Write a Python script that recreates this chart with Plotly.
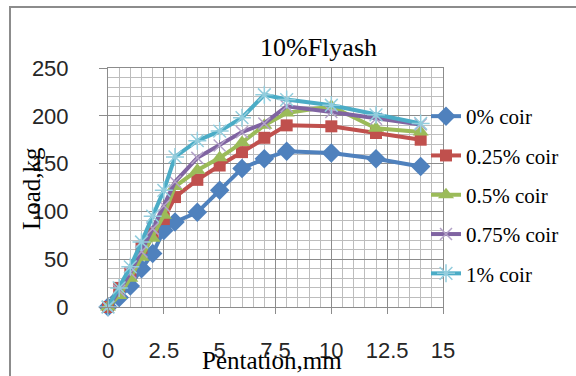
import plotly.graph_objects as go

# Penetration (mm) readings shared by every mix
penetration = [0, 0.5, 1, 1.5, 2, 2.5, 3, 4, 5, 6, 7, 8, 10, 12, 14]

# Load (kg) for each coir content
load_0 = [0, 10, 22, 40, 56, 80, 89, 99, 122, 145, 155, 163, 161, 155, 147]
load_025 = [0, 20, 35, 62, 78, 92, 115, 133, 148, 162, 177, 190, 189, 182, 175]
load_05 = [0, 12, 30, 52, 72, 96, 126, 143, 156, 172, 190, 203, 210, 187, 183]
load_075 = [0, 17, 36, 58, 82, 106, 131, 156, 169, 183, 192, 210, 204, 197, 191]
load_1 = [0, 20, 42, 68, 95, 122, 157, 174, 184, 198, 222, 217, 211, 201, 192]

series_names = ["0% coir", "0.25% coir", "0.5% coir", "0.75% coir", "1% coir"]
series_loads = [load_0, load_025, load_05, load_075, load_1]

x_ticks = [0, 2.5, 5, 7.5, 10, 12.5, 15]
y_ticks = [0, 50, 100, 150, 200, 250]

styles = [
    dict(color="#4F81BD", symbol="diamond", msize=15, mcolor="#4F81BD", mline=0),
    dict(color="#C0504D", symbol="square", msize=12, mcolor="#C0504D", mline=0),
    dict(color="#9BBB59", symbol="triangle-up", msize=14, mcolor="#9BBB59", mline=0),
    dict(color="#8064A2", symbol="x-thin-open", msize=12, mcolor="#B3A2C7", mline=1.5),
    dict(color="#4BACC6", symbol="asterisk-open", msize=15, mcolor="#93CDDD", mline=1.5),
]

W, H = 576, 376
L, R, T, B = 108, 133, 68, 69
pw, ph = W - L - R, H - T - B


def px_x(p):
    return (p - L) / pw


def px_y(p):
    return (H - B - p) / ph


fig = go.Figure()
for name, vals, st in zip(series_names, series_loads, styles):
    fig.add_trace(go.Scatter(
        x=penetration, y=vals, name=name, mode="lines+markers",
        legendgroup=name, cliponaxis=False,
        line=dict(color=st["color"], width=4),
        marker=dict(symbol=st["symbol"], size=st["msize"], color=st["mcolor"],
                    line=dict(width=st["mline"], color=st["mcolor"])),
    ))

serif = "Liberation Serif, Times New Roman, serif"
sans = "Liberation Sans, Arial, sans-serif"

fig.update_layout(
    width=W, height=H,
    margin=dict(l=L, r=R, t=T, b=B),
    paper_bgcolor="white", plot_bgcolor="white",
    showlegend=True,
    legend=dict(
        x=px_x(426), y=px_y(96), xanchor="left", yanchor="top",
        font=dict(family=serif, size=21, color="#000000"),
        tracegroupgap=9, bgcolor="rgba(0,0,0,0)",
        itemwidth=30,
    ),
    annotations=[
        dict(text="10%Flyash", x=px_x(318), y=px_y(47), xref="paper", yref="paper",
             xanchor="center", yanchor="middle",
             showarrow=False, font=dict(family=serif, size=26, color="#000000")),
        dict(text="Pentation,mm", x=px_x(272), y=px_y(360), xref="paper", yref="paper",
             xanchor="center", yanchor="middle",
             showarrow=False, font=dict(family=serif, size=25, color="#000000")),
        dict(text="Load,kg", x=px_x(31), y=px_y(189), xref="paper", yref="paper",
             xanchor="center", yanchor="middle",
             textangle=-90, showarrow=False,
             font=dict(family=serif, size=25, color="#000000")),
    ],
    shapes=[
        dict(type="rect", xref="paper", yref="paper",
             x0=px_x(10), y0=px_y(400), x1=px_x(620), y1=px_y(7),
             line=dict(color="#8C8C8C", width=2), fillcolor="rgba(0,0,0,0)", layer="below"),
    ],
)

fig.update_xaxes(
    range=[0, 15], tickvals=x_ticks, ticktext=[f"{v:g}" for v in x_ticks],
    showgrid=True, gridcolor="#8C8C8C", gridwidth=1,
    minor=dict(dtick=0.5, tick0=0, showgrid=True, gridcolor="#BDBDBD", gridwidth=1),
    showline=True, linecolor="#8C8C8C", linewidth=1, mirror=True,
    ticks="outside", ticklen=6, tickcolor="#8C8C8C",
    ticklabelstandoff=18,
    tickfont=dict(family=sans, size=22, color="#262626"),
    zeroline=False,
)
fig.update_yaxes(
    range=[0, 250], tickvals=y_ticks,
    showgrid=True, gridcolor="#8C8C8C", gridwidth=1,
    minor=dict(dtick=10, tick0=0, showgrid=True, gridcolor="#BDBDBD", gridwidth=1),
    showline=True, linecolor="#8C8C8C", linewidth=1, mirror=True,
    ticks="outside", ticklen=8, tickcolor="#8C8C8C",
    ticklabelstandoff=26,
    tickfont=dict(family=sans, size=22, color="#262626"),
    zeroline=False,
)

fig.write_html("out.html")
